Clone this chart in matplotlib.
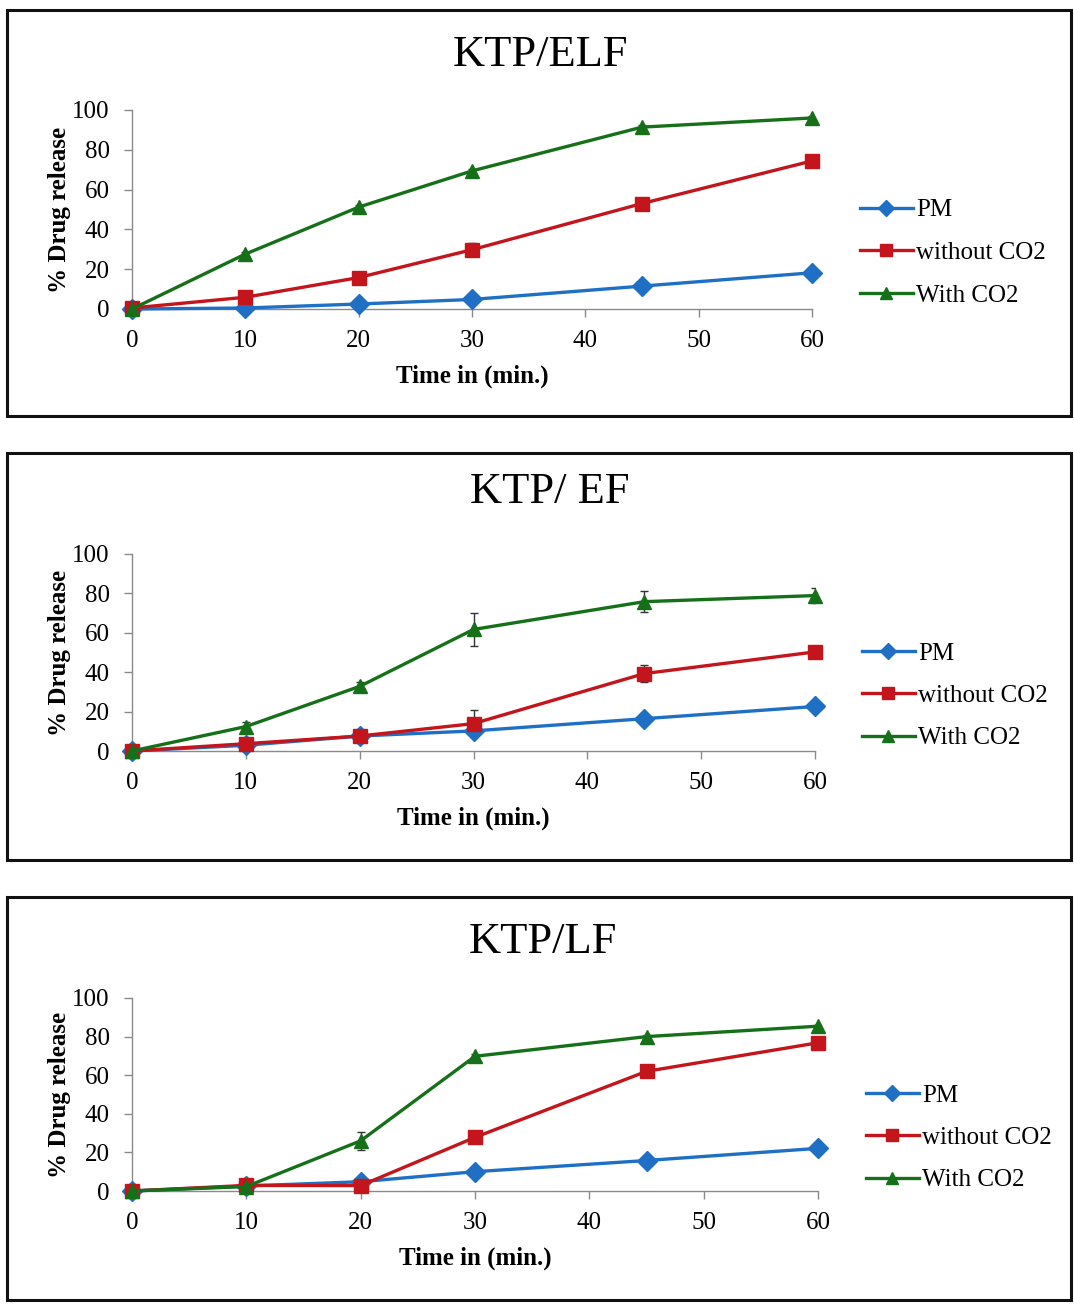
import matplotlib
matplotlib.use("Agg")
import matplotlib.pyplot as plt
from matplotlib.patches import Rectangle

plt.rcParams['font.family'] = ['Liberation Serif', 'DejaVu Serif']

time = [0, 10, 20, 30, 45, 60]
series_names = ['PM', 'without CO2', 'With CO2']
titles = ['KTP/ELF', 'KTP/ EF', 'KTP/LF']

# panel 1: KTP/ELF
elf_pm = [0, 0.5, 2.5, 4.8, 11.5, 18.2]
elf_wo = [0.5, 5.9, 15.8, 29.8, 53.0, 74.4]
elf_w = [0, 27.6, 51.2, 69.4, 91.4, 96.0]
elf_pm_err = [0, 0.3, 0.5, 0.5, 0.8, 1.0]
elf_wo_err = [0, 0.8, 1.0, 3.2, 1.0, 0.8]
elf_w_err = [0, 1.0, 1.2, 1.0, 1.0, 0.8]

# panel 2: KTP/ EF
ef_pm = [0, 2.9, 7.6, 10.2, 16.4, 22.6]
ef_wo = [0, 3.7, 7.6, 13.9, 39.3, 50.3]
ef_w = [0, 12.4, 32.8, 61.7, 75.8, 78.9]
ef_pm_err = [0, 0.5, 0.5, 2.7, 0.8, 0.8]
ef_wo_err = [0, 0.8, 0.8, 7.0, 4.2, 3.0]
ef_w_err = [0, 2.5, 2.2, 8.2, 5.2, 4.0]

# panel 3: KTP/LF
lf_pm = [0, 2.6, 4.8, 10.0, 15.8, 22.1]
lf_wo = [0, 2.9, 2.8, 27.8, 62.0, 76.8]
lf_w = [0, 2.3, 26.0, 69.8, 80.0, 85.4]
lf_pm_err = [0, 0.3, 0.5, 0.5, 0.6, 0.6]
lf_wo_err = [0, 0.3, 0.5, 2.2, 1.2, 1.2]
lf_w_err = [0, 0.3, 4.5, 1.0, 1.0, 0.8]

panels = [
    ([elf_pm, elf_wo, elf_w], [elf_pm_err, elf_wo_err, elf_w_err]),
    ([ef_pm, ef_wo, ef_w], [ef_pm_err, ef_wo_err, ef_w_err]),
    ([lf_pm, lf_wo, lf_w], [lf_pm_err, lf_wo_err, lf_w_err]),
]

colors = ['#1f70c4', '#c4141c', '#16701a']
markers = ['D', 's', '^']
msizes = [10, 10, 10]

W, H = 1074, 1305
fig = plt.figure(figsize=(W / 100, H / 100), dpi=100)


def fx(px):
    return px / W


def fy(py):
    return 1 - py / H


# pixel layout: box (top, bottom), axes (left, right, top, bottom), title (x, y), legend (x, top)
boxes = [(10, 416), (453, 860), (897, 1300)]
axes_px = [(132, 812, 110, 309), (132, 815, 554, 751), (132, 818, 998, 1191)]
title_px = [(540, 55), (550, 492), (543, 942)]
legend_px = [(860, 199), (862, 642), (866, 1084)]

for i in range(3):
    top, bot = boxes[i]
    fig.patches.append(Rectangle((fx(7), fy(bot)), fx(1071 - 7), (bot - top) / H,
                                 transform=fig.transFigure, fill=False,
                                 edgecolor='#111111', linewidth=2.2))

    l, r, t, b = axes_px[i]
    ax = fig.add_axes([fx(l), fy(b), fx(r - l), (b - t) / H])
    vals, errs = panels[i]
    handles = []
    for j in range(3):
        ax.errorbar(time, vals[j], yerr=errs[j], fmt='none', ecolor='#333333',
                    elinewidth=1.0, capsize=3, capthick=1.0, zorder=2)
        h, = ax.plot(time, vals[j], color=colors[j], marker=markers[j],
                     markersize=msizes[j], markeredgecolor=colors[j],
                     linewidth=2.4, label=series_names[j], zorder=3, clip_on=False)
        handles.append(h)

    ax.set_xlim(0, 60)
    ax.set_ylim(0, 100)
    ax.set_xticks([0, 10, 20, 30, 40, 50, 60])
    ax.set_yticks([0, 20, 40, 60, 80, 100])
    for s in ['top', 'right']:
        ax.spines[s].set_visible(False)
    for s in ['left', 'bottom']:
        ax.spines[s].set_color('#8a8a8a')
        ax.spines[s].set_linewidth(1.0)
    ax.tick_params(axis='both', direction='out', length=6, width=1.0,
                   color='#8a8a8a', labelsize=18)
    ax.tick_params(axis='x', pad=9)
    ax.tick_params(axis='y', pad=10)
    ax.set_xlabel('Time in (min.)', fontsize=18, fontweight='bold', labelpad=9)
    ax.set_ylabel('% Drug release', fontsize=18, fontweight='bold', labelpad=1)

    tx, ty = title_px[i]
    fig.text(fx(tx), fy(ty), titles[i], fontsize=32, ha='center', va='center')

    lx, ly = legend_px[i]
    fig.legend(handles=handles, loc='upper left', bbox_to_anchor=(fx(lx), fy(ly)),
               frameon=False, fontsize=18, handlelength=2.1, handletextpad=0.15,
               labelspacing=0.8, borderpad=0, borderaxespad=0, markerscale=0.8)

fig.savefig('out.png', dpi=100)
